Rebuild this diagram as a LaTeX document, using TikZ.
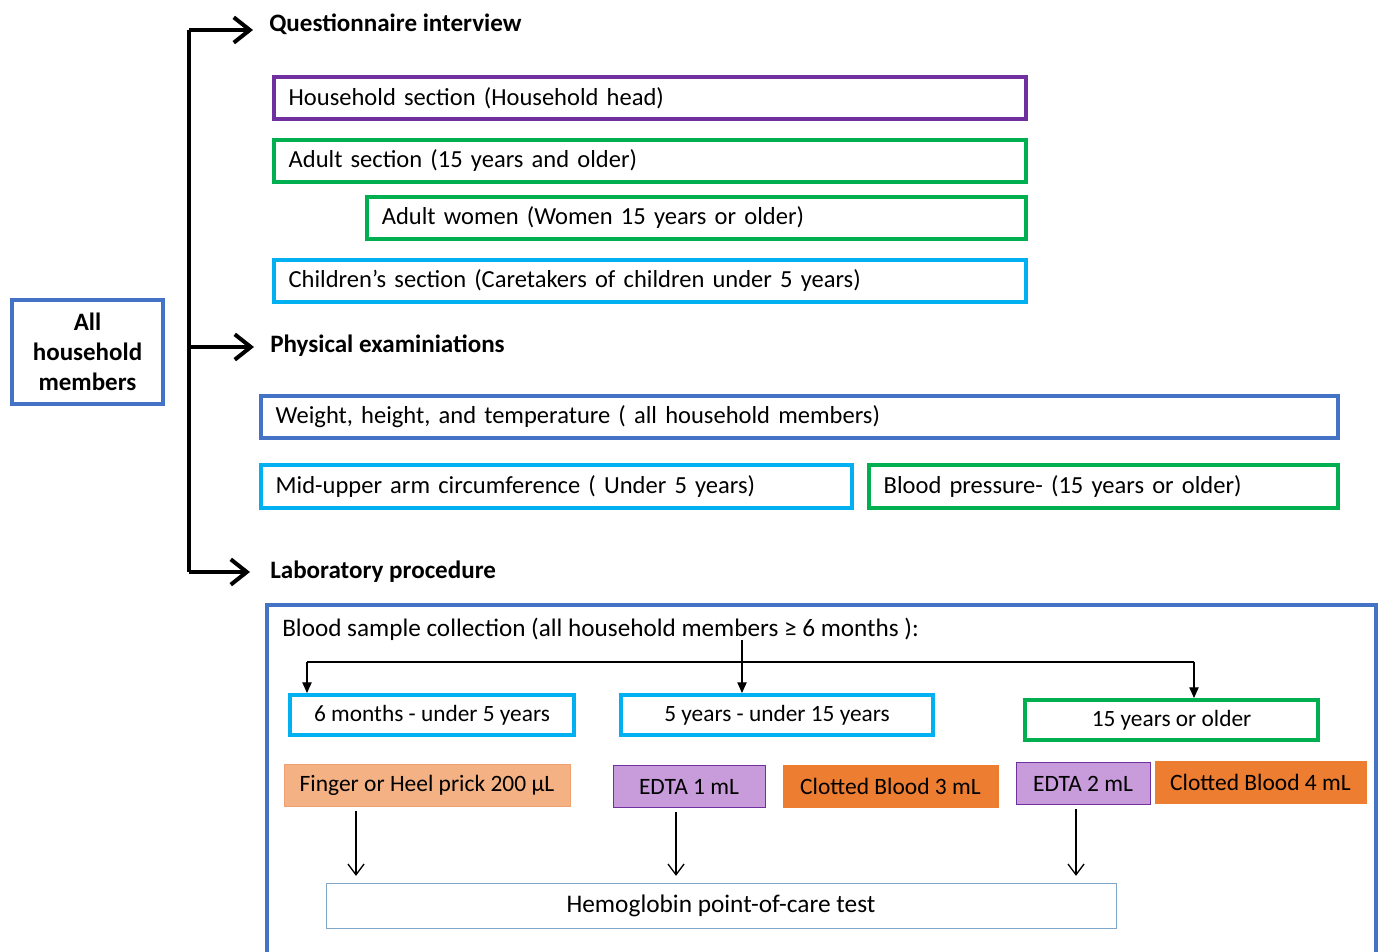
\documentclass[tikz,border=0pt]{standalone}
\usepackage{fontspec}
\setmainfont{Carlito}
\usetikzlibrary{arrows.meta,calc}

\definecolor{hhblue}{HTML}{4472C4}
\definecolor{hhpurple}{HTML}{7030A0}
\definecolor{hhgreen}{HTML}{00B050}
\definecolor{hhcyan}{HTML}{00B0F0}
\definecolor{hhorange}{HTML}{ED7D31}
\definecolor{hhsalmon}{HTML}{F4B183}
\definecolor{hhsalmonline}{HTML}{F0A070}
\definecolor{hhlilac}{HTML}{C89BDA}
\definecolor{hhsteel}{HTML}{7FA7C9}

\tikzset{
  sect/.style={draw=#1, line width=3pt, inner xsep=11pt, inner ysep=0pt, align=left, minimum height=32pt, font=\fontsize{18.4}{22}\selectfont},
  agebox/.style={draw=#1, line width=3pt, align=center, minimum height=30pt, font=\fontsize{17.5}{20}\selectfont},
  tube/.style={fill=#1, line width=0.75pt, align=center, minimum height=32pt, font=\fontsize{17.6}{20}\selectfont},
  title/.style={anchor=west, inner sep=0pt, font=\bfseries\fontsize{18.8}{22}\selectfont},
  trunk/.style={line width=3pt},
  bigarrow/.style={line width=3pt, -{Straight Barb[length=12pt,width=19pt]}},
  thinarrow/.style={line width=0.9pt, -{Triangle[length=8pt,width=7pt]}},
  dnarrow/.style={line width=1pt, shorten >=5pt, -{Straight Barb[length=8pt,width=12pt]}},
}

\begin{document}
\begin{tikzpicture}[x=0.75pt,y=0.75pt,yscale=-1,xscale=1]
\useasboundingbox (0,0) rectangle (1381,952);

% left box
\node [draw=hhblue, line width=3pt, minimum width=113.25pt, minimum height=78pt, align=center, font=\bfseries\fontsize{18.75}{22.5}\selectfont] (members) at (87.5,352) {All\\household\\members};

% titles
\node [title] (qi) at (269,24) {Questionnaire interview};
\node [title] (pe) at (270,346) {Physical examiniations};
\node [title] (lp) at (270,572) {Laboratory procedure};

% trunk and arrows
\coordinate (top) at (189,30);
\coordinate (mid) at (189,347);
\coordinate (bot) at (189,572);
\draw [trunk] (top) -- (bot);
\draw [bigarrow] (top) -- ([xshift=-12pt]top -| qi.west);
\draw [bigarrow] (mid) -- ([xshift=-12pt]mid -| pe.west);
\draw [bigarrow] (bot) -- ([xshift=-15pt]bot -| lp.west);

% questionnaire sections
\node [sect=hhpurple, text width=542pt, minimum width=564pt] (hh) at (650,98) {Household section (Household head)};
\node [sect=hhgreen, text width=542pt, minimum width=564pt] (adult) at (650,161) {Adult section (15 years and older)};
\node [sect=hhgreen, text width=472pt, minimum width=494.25pt] (women) at (696.5,218) {Adult women (Women 15 years or older)};
\node [sect=hhcyan, text width=542pt, minimum width=564pt] (child) at (650,281) {Children’s section (Caretakers of children under 5 years)};

% physical examinations
\node [sect=hhblue, text width=785.75pt, minimum width=807.75pt] (weight) at (799.5,417) {Weight, height, and temperature ( all household members)};
\node [sect=hhcyan, text width=421.25pt, minimum width=443.25pt] (muac) at (556.5,486.5) {Mid-upper arm circumference ( Under 5 years)};
\node [sect=hhgreen, text width=329.75pt, minimum width=351.75pt] (bp) at (1103.5,486.5) {Blood pressure- (15 years or older)};

% laboratory
\draw [hhblue, line width=3pt] (267,605) rectangle (1376,975);
\node [anchor=base west, inner sep=0pt, font=\fontsize{18.9}{22}\selectfont] (bsc) at (282,636) {Blood sample collection (all household members ≥ 6 months ):};

\node [agebox=hhcyan, minimum width=213pt] (m6) at (432,715) {6 months - under 5 years};
\node [agebox=hhcyan, minimum width=234pt] (y5) at (777,715) {5 years - under 15 years};
\node [agebox=hhgreen, minimum width=219.75pt] (y15) at (1171.5,720) {15 years or older};

\coordinate (split) at (742,662);
\coordinate (bl) at (307,662);
\coordinate (br) at (1194,662);
\draw [thinarrow] (bsc.south -| split) -- (split |- y5.north);
\draw [line width=0.9pt] (bl) -- (br);
\draw [thinarrow] (bl) -- (bl |- m6.north);
\draw [thinarrow] (br) -- (br |- y15.north);

\node [tube=hhsalmon, draw=hhsalmonline, minimum width=214.5pt] (finger) at (427,785.5) {Finger or Heel prick 200 µL};
\node [tube=hhlilac, draw=hhpurple, minimum width=114pt] (edta1) at (689,786.5) {EDTA 1 mL};
\node [tube=hhorange, draw=hhorange, minimum width=161.25pt] (cb3) at (890.5,786.5) {Clotted Blood 3 mL};
\node [tube=hhlilac, draw=hhpurple, minimum width=100.5pt] (edta2) at (1083,783.5) {EDTA 2 mL};
\node [tube=hhorange, draw=hhorange, minimum width=158.25pt] (cb4) at (1260.5,782.5) {Clotted Blood 4 mL};

\node [draw=hhsteel, line width=0.75pt, minimum width=592.5pt, minimum height=33.75pt, font=\fontsize{19}{22}\selectfont] (hb) at (721,905.5) {Hemoglobin point-of-care test};

\draw [dnarrow] ($(finger.south)+(-71,4)$) coordinate (fa) -- (fa |- hb.north);
\draw [dnarrow] ($(edta1.south)+(-13,4)$) coordinate (ea) -- (ea |- hb.north);
\draw [dnarrow] ($(edta2.south)+(-7,4)$) coordinate (eb) -- (eb |- hb.north);

\end{tikzpicture}
\end{document}
